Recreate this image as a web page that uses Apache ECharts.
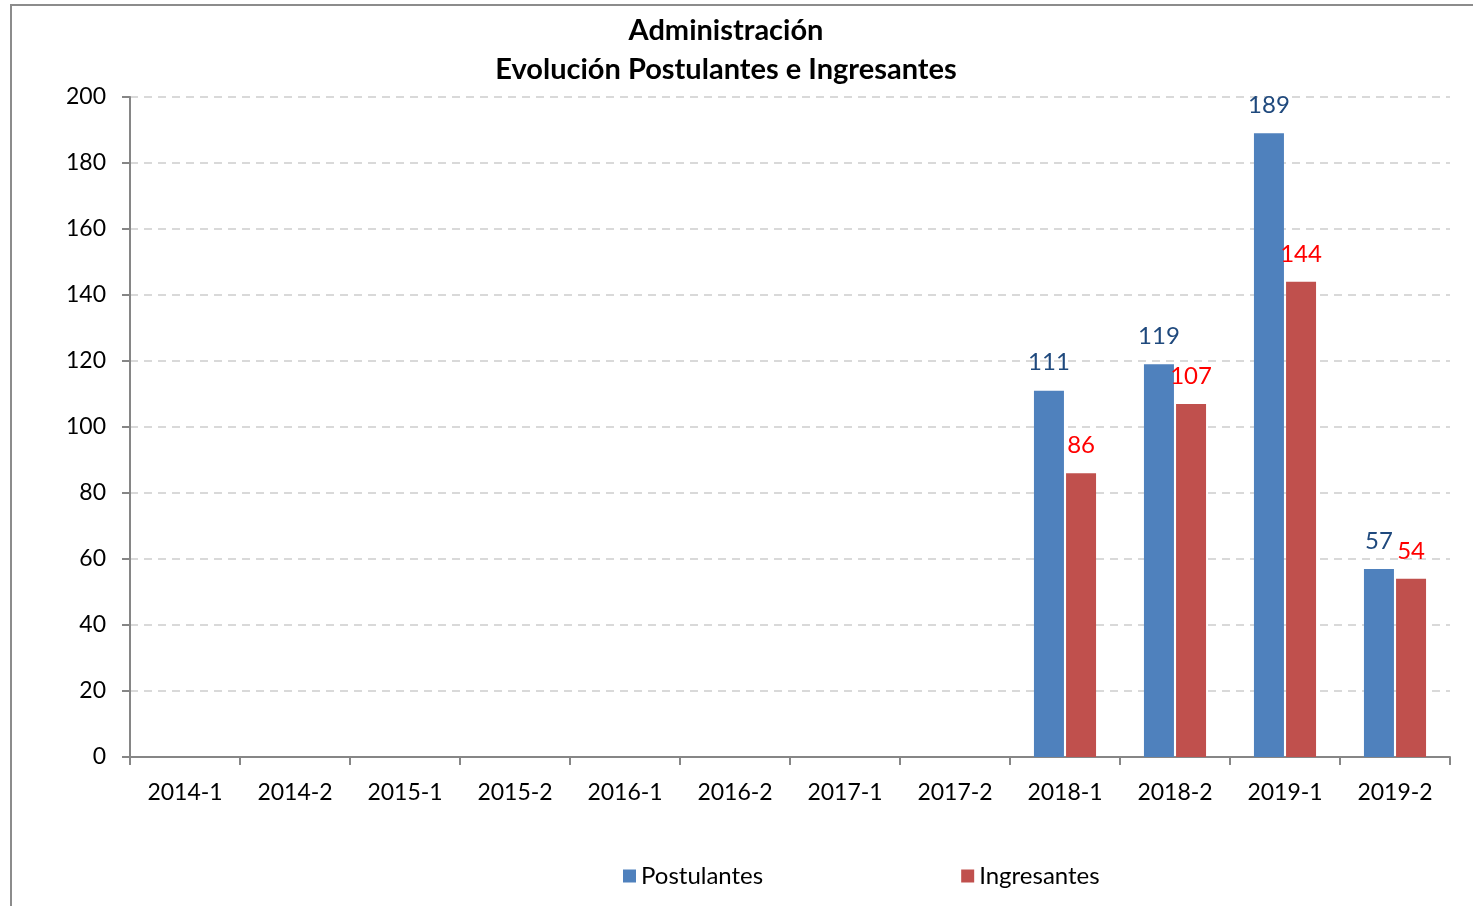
<!DOCTYPE html>
<html>
<head>
<meta charset="utf-8">
<script src="https://cdn.jsdelivr.net/npm/echarts@6/dist/echarts.min.js"></script>
<style>
html,body{margin:0;padding:0;background:#fff;}
#c{width:1473px;height:906px;}
</style>
</head>
<body>
<div id="c"></div>
<script>
const categories = ['2014-1','2014-2','2015-1','2015-2','2016-1','2016-2','2017-1','2017-2','2018-1','2018-2','2019-1','2019-2'];
const postulantes = [null,null,null,null,null,null,null,null,111,119,189,57];
const ingresantes = [null,null,null,null,null,null,null,null,86,107,144,54];
const yTicks = {min:0, max:200, interval:20};

const FONT = 'Lato, "Liberation Sans", sans-serif';
const chart = echarts.init(document.getElementById('c'));
chart.setOption({
  animation:false,
  textStyle:{fontFamily:FONT},
  graphic:[{type:'rect',shape:{x:11,y:5,width:1600,height:1100},style:{fill:'none',stroke:'#8c8c8c',lineWidth:2},silent:true}],
  title:{
    text:'Administración\nEvolución Postulantes e Ingresantes',
    left:721, top:6, textAlign:'center',
    textStyle:{fontFamily:FONT,fontWeight:'bold',fontSize:29,lineHeight:39,color:'#000'}
  },
  legend:{
    left:618, top:859, itemWidth:13, itemHeight:13, itemGap:198, icon:'rect',
    textStyle:{fontFamily:FONT,fontSize:24,color:'#000'},
    data:['Postulantes','Ingresantes']
  },
  grid:{left:130,right:23,top:97,bottom:149},
  xAxis:{
    type:'category', data:categories,
    axisLine:{lineStyle:{color:'#868686',width:2}},
    axisTick:{show:true,length:8,lineStyle:{color:'#868686',width:2}},
    axisLabel:{color:'#000',fontSize:23,margin:24,fontFamily:FONT}
  },
  yAxis:{
    type:'value', min:yTicks.min, max:yTicks.max, interval:yTicks.interval,
    axisLine:{show:true,lineStyle:{color:'#868686',width:2}},
    axisTick:{show:true,length:8,lineStyle:{color:'#868686',width:2}},
    axisLabel:{color:'#000',fontSize:23,margin:24,fontFamily:FONT},
    splitLine:{lineStyle:{color:'#d9d9d9',width:2,type:[8,6]}}
  },
  series:[
    {name:'Postulantes',type:'bar',data:postulantes,barWidth:30,barGap:'7%',
     itemStyle:{color:'#4F81BD'},
     label:{show:true,position:'top',distance:16,color:'#1F497D',fontSize:24,fontFamily:FONT}},
    {name:'Ingresantes',type:'bar',data:ingresantes,barWidth:30,barGap:'7%',
     itemStyle:{color:'#C0504D'},
     label:{show:true,position:'top',distance:16,color:'#FF0000',fontSize:24,fontFamily:FONT}}
  ]
});
</script>
</body>
</html>
